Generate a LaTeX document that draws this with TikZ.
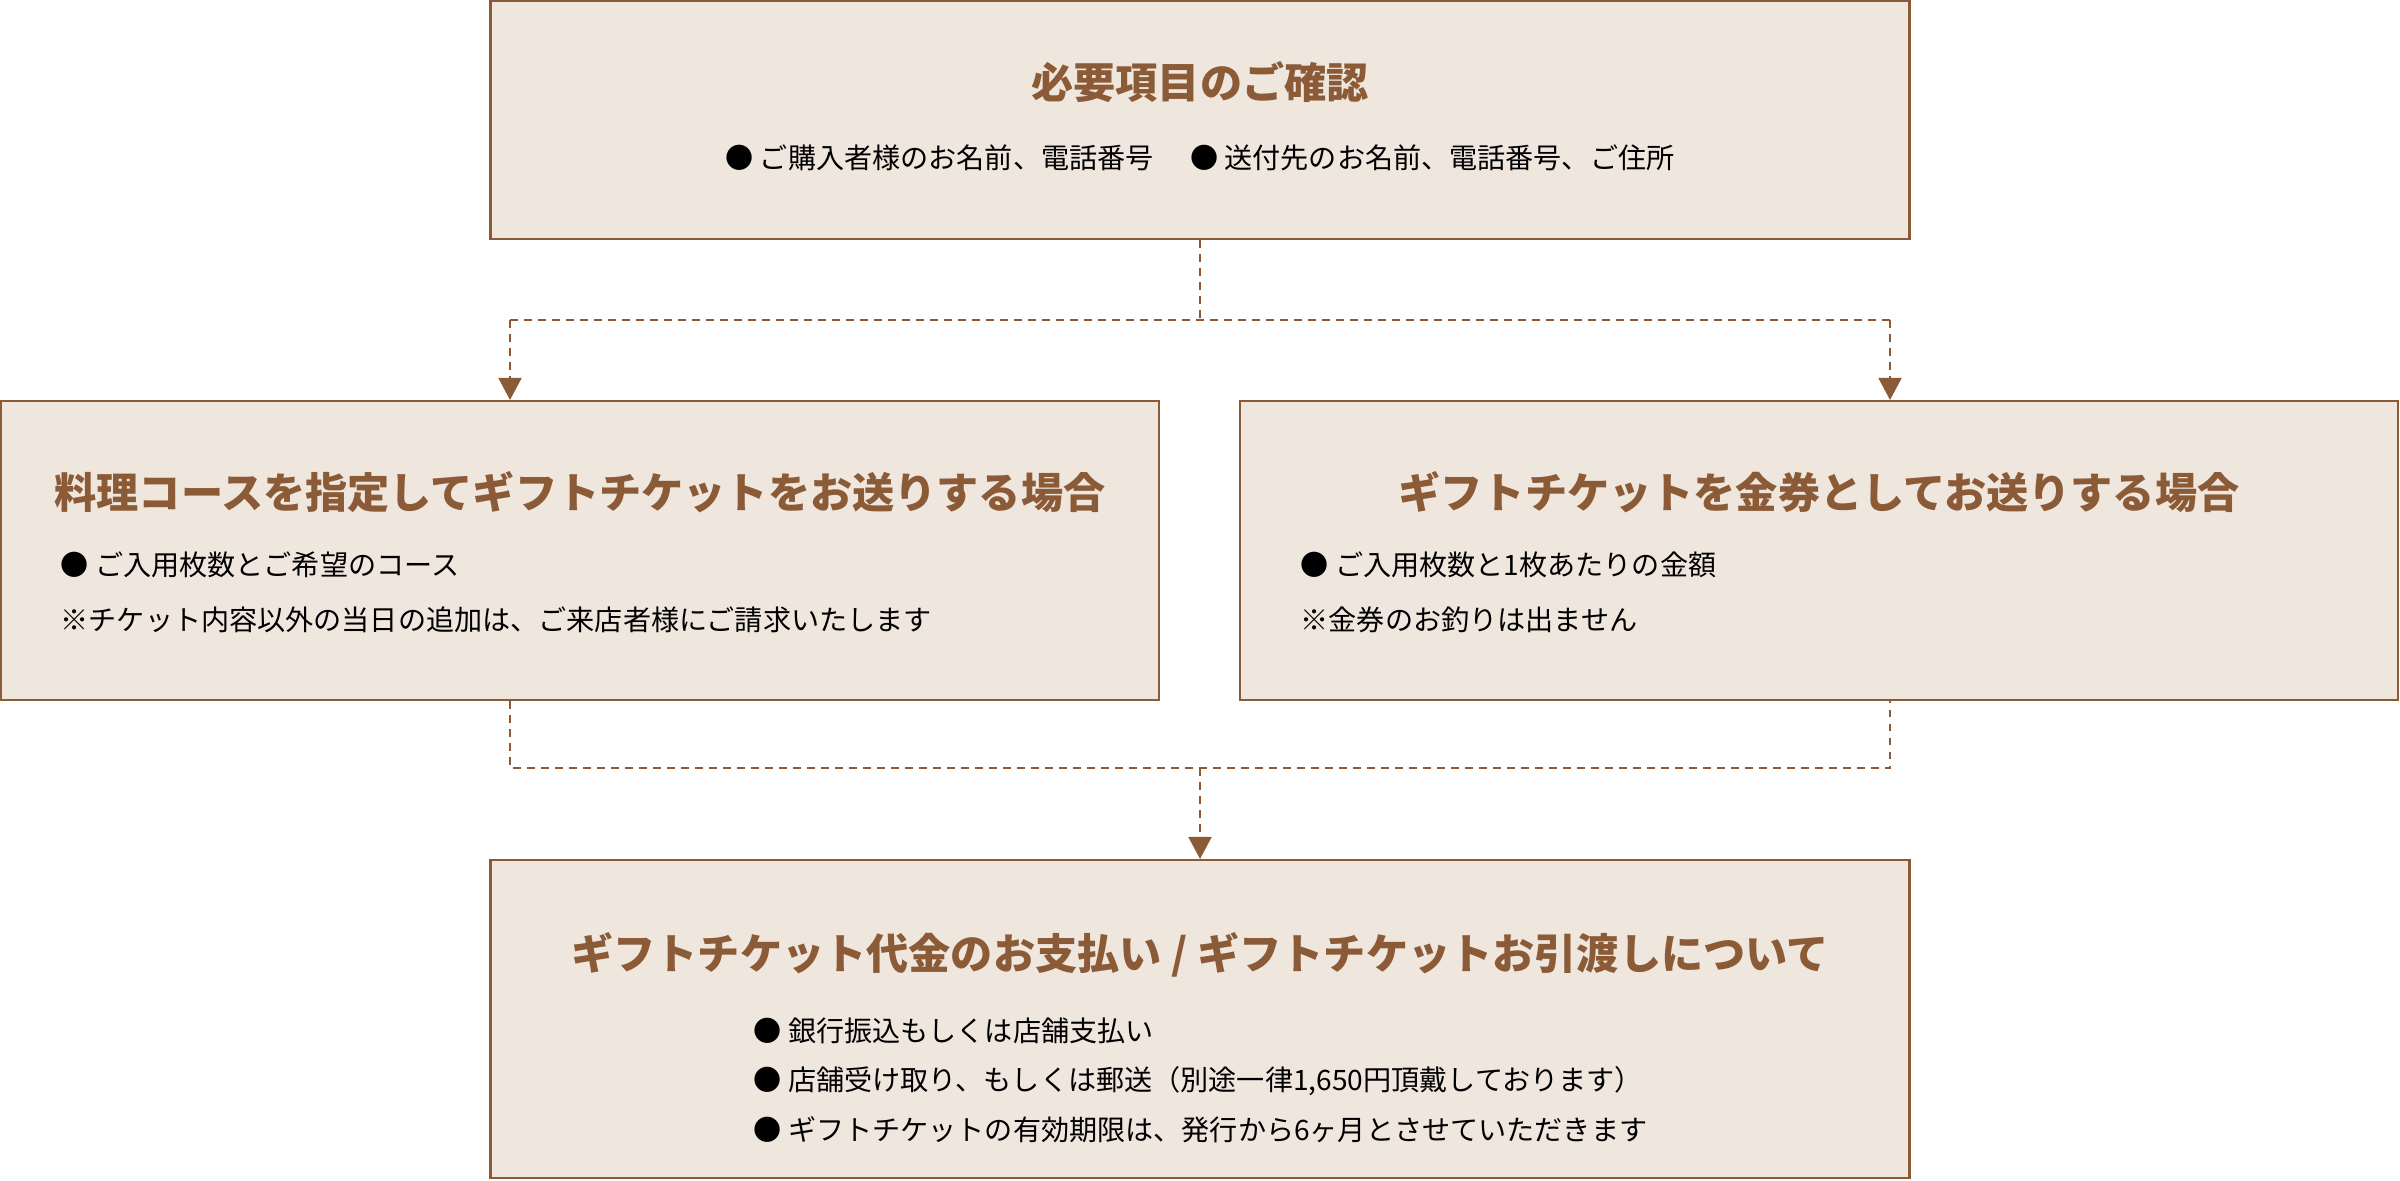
\documentclass[tikz,border=0pt]{standalone}
\usepackage{fontspec}
\usepackage{tikz}
\usetikzlibrary{positioning, arrows.meta, calc}
\usepackage{xcolor}
\newfontfamily\jpfont{Noto Sans CJK JP}
\definecolor{giftbrown}{HTML}{8B5A36}
\definecolor{giftbeige}{HTML}{EFE6DE}
\tikzset{
    infobox/.style={
        rectangle, draw=giftbrown, line width=0.6pt,
        fill=giftbeige, inner sep=0pt
    },
    box_title/.style={
        inner sep=0pt, text=giftbrown,
        font=\jpfont\bfseries\fontsize{12}{14}\selectfont
    },
    item/.style={
        inner sep=0pt, anchor=west, text=black,
        font=\jpfont\fontsize{8}{10}\selectfont
    },
    link/.style={
        draw=giftbrown, line width=0.55pt,
        dash pattern=on 0.75mm off 0.65mm
    }
}

\begin{document}
\begin{tikzpicture}[
    >={Triangle[length=2.2mm, width=2.3mm]}
]
\useasboundingbox (0,0) rectangle (24,-11.8);

% boxes
\node[infobox, minimum width=14.19cm, minimum height=2.38cm] (need) at (12.0,-1.2) {};
\node[infobox, minimum width=11.58cm, minimum height=2.99cm] (course) at (5.8,-5.505) {};
\node[infobox, minimum width=11.58cm, minimum height=2.99cm] (ticket) at (18.19,-5.505) {};
\node[infobox, minimum width=14.19cm, minimum height=3.18cm] (pay) at (12.0,-10.19) {};

% texts
\node[box_title] (need_title) at (12.0,-0.82) {必要項目のご確認};
\node[item, anchor=center] (need_item) at (12.0,-1.58) {● ご購入者様のお名前、電話番号\hspace{1.3em}● 送付先のお名前、電話番号、ご住所};

\node[box_title] (course_title) at (5.8,-4.92) {料理コースを指定してギフトチケットをお送りする場合};
\node[item] (course_a) at (0.60,-5.65) {● ご入用枚数とご希望のコース};
\node[item] (course_b) at (0.60,-6.20) {※チケット内容以外の当日の追加は、ご来店者様にご請求いたします};

\node[box_title] (ticket_title) at (18.19,-4.92) {ギフトチケットを金券としてお送りする場合};
\node[item] (ticket_a) at (13.0,-5.65) {● ご入用枚数と1枚あたりの金額};
\node[item] (ticket_b) at (13.0,-6.20) {※金券のお釣りは出ません};

\node[box_title] (pay_title) at (12.0,-9.55) {ギフトチケット代金のお支払い / ギフトチケットお引渡しについて};
\node[item] (pay_a) at (7.53,-10.31) {● 銀行振込もしくは店舗支払い};
\node[item] (pay_b) at (7.53,-10.81) {● 店舗受け取り、もしくは郵送（別途一律1,650円頂戴しております）};
\node[item] (pay_c) at (7.53,-11.30) {● ギフトチケットの有効期限は、発行から6ヶ月とさせていただきます};

% fork
\path (need.south) ++(0,-0.81) coordinate (fork);
\coordinate (forkL) at (5.1,-3.2);
\coordinate (forkR) at (18.9,-3.2);
\draw[link] (need.south) -- (fork);
\draw[link] (forkL) -- (forkR);
\draw[link,->] (forkL) -- (forkL |- course.north);
\draw[link,->] (forkR) -- (forkR |- ticket.north);

% join
\path (course.south) ++(0,-0.67) coordinate (joinrow);
\coordinate (joinL) at (forkL |- joinrow);
\coordinate (joinR) at (forkR |- joinrow);
\coordinate (join) at (fork |- joinrow);
\draw[link] (forkL |- course.south) -- (joinL) -- (joinR) -- (forkR |- ticket.south);
\draw[link,->] (join) -- (pay.north);

\end{tikzpicture}
\end{document}
